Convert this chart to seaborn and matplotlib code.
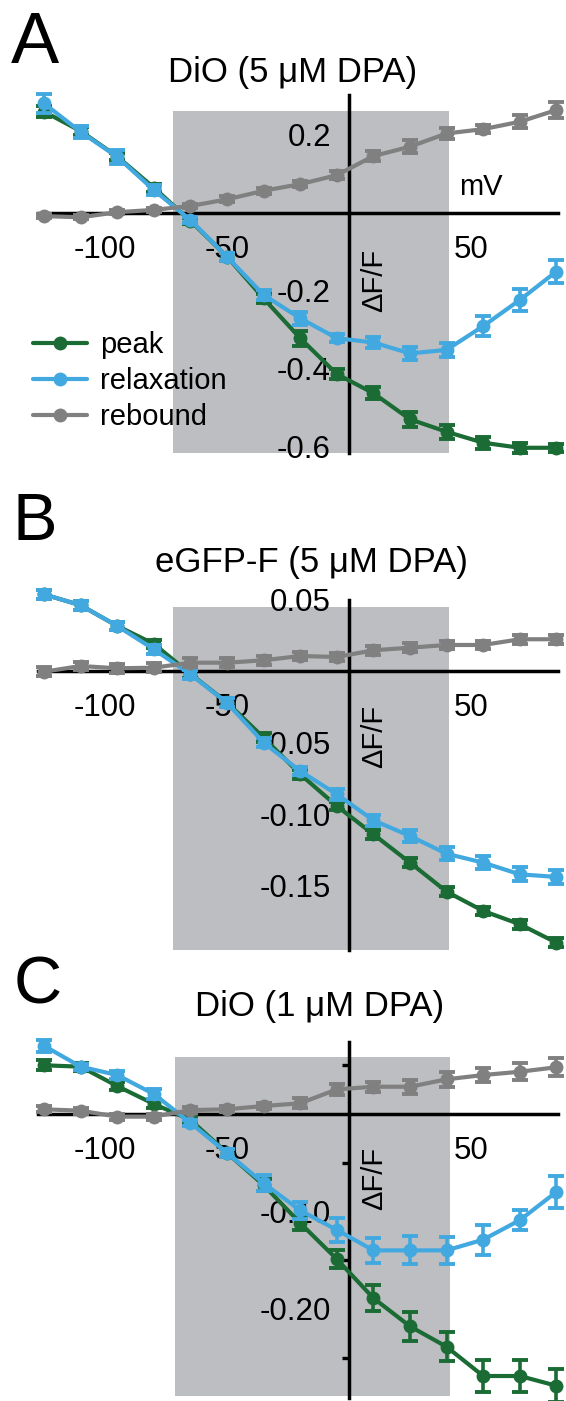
import numpy as np
import pandas as pd
import matplotlib
matplotlib.use("Agg")
import matplotlib.pyplot as plt
import seaborn as sns

# ---------------- data ----------------
mV = [-125, -110, -95, -80, -65, -50, -35, -20, -5, 10, 25, 40, 55, 70, 85]
series_names = ["peak", "relaxation", "rebound"]

# Panel A: DiO (5 uM DPA)
A_peak = [0.26, 0.21, 0.145, 0.065, -0.02, -0.112, -0.219, -0.321, -0.413, -0.462, -0.529, -0.561, -0.589, -0.602, -0.602]
A_peak_sem = [0.015, 0.01, 0.01, 0.01, 0.008, 0.01, 0.012, 0.019, 0.013, 0.015, 0.02, 0.018, 0.015, 0.013, 0.01]
A_relax = [0.281, 0.208, 0.144, 0.059, -0.018, -0.112, -0.21, -0.27, -0.321, -0.332, -0.36, -0.351, -0.29, -0.223, -0.15]
A_relax_sem = [0.025, 0.015, 0.018, 0.013, 0.008, 0.01, 0.013, 0.017, 0.01, 0.013, 0.017, 0.017, 0.025, 0.027, 0.03]
A_reb = [-0.008, -0.011, 0.002, 0.008, 0.018, 0.035, 0.057, 0.074, 0.097, 0.146, 0.17, 0.204, 0.215, 0.234, 0.264]
A_reb_sem = [0.005, 0.005, 0.005, 0.005, 0.006, 0.008, 0.008, 0.008, 0.01, 0.013, 0.017, 0.014, 0.01, 0.017, 0.02]

# Panel B: eGFP-F (5 uM DPA)
B_peak = [0.0536, 0.046, 0.0315, 0.019, -0.002, -0.022, -0.0466, -0.0722, -0.0944, -0.1142, -0.134, -0.1543, -0.1678, -0.1771, -0.19]
B_peak_sem = [0.003, 0.003, 0.003, 0.003, 0.003, 0.003, 0.003, 0.003, 0.003, 0.003, 0.003, 0.003, 0.003, 0.003, 0.003]
B_relax = [0.0536, 0.046, 0.0315, 0.0152, -0.0023, -0.0222, -0.0501, -0.070, -0.0862, -0.1044, -0.1154, -0.1278, -0.134, -0.1422, -0.144]
B_relax_sem = [0.003, 0.003, 0.003, 0.003, 0.003, 0.003, 0.003, 0.003, 0.004, 0.004, 0.004, 0.0045, 0.0045, 0.005, 0.0047]
B_reb = [-0.0005, 0.0035, 0.0019, 0.0023, 0.0058, 0.0058, 0.0075, 0.0105, 0.0098, 0.0145, 0.0163, 0.0182, 0.0182, 0.0222, 0.0222]
B_reb_sem = [0.003, 0.003, 0.003, 0.003, 0.003, 0.003, 0.003, 0.003, 0.003, 0.003, 0.003, 0.003, 0.003, 0.003, 0.003]

# Panel C: DiO (1 uM DPA)
C_peak = [0.050, 0.0486, 0.0287, 0.0103, -0.006, -0.040, -0.073, -0.112, -0.149, -0.189, -0.218, -0.239, -0.269, -0.269, -0.279]
C_peak_sem = [0.005, 0.004, 0.004, 0.004, 0.004, 0.004, 0.006, 0.007, 0.0094, 0.013, 0.015, 0.015, 0.016, 0.0166, 0.017]
C_relax = [0.070, 0.0486, 0.040, 0.0205, -0.009, -0.040, -0.071, -0.099, -0.119, -0.140, -0.140, -0.140, -0.129, -0.109, -0.080]
C_relax_sem = [0.006, 0.003, 0.004, 0.005, 0.003, 0.004, 0.0085, 0.009, 0.0125, 0.013, 0.0145, 0.0137, 0.0154, 0.0103, 0.016]
C_reb = [0.0048, 0.0034, -0.0027, -0.0027, 0.004, 0.0048, 0.0082, 0.011, 0.0253, 0.028, 0.028, 0.0356, 0.040, 0.0434, 0.048]
C_reb_sem = [0.003, 0.003, 0.003, 0.003, 0.003, 0.003, 0.003, 0.005, 0.006, 0.005, 0.007, 0.008, 0.007, 0.0085, 0.0094]

titles = ["DiO (5 \u03bcM DPA)", "eGFP-F (5 \u03bcM DPA)", "DiO (1 \u03bcM DPA)"]
letters = ["A", "B", "C"]
x_ticks = [-100, -50, 50]
x_ticklabels = ["-100", "-50", "50"]
A_yticks = [0.2, -0.2, -0.4, -0.6]
A_yticklabels = ["0.2", "-0.2", "-0.4", "-0.6"]
B_yticks = [0.05, -0.05, -0.10, -0.15]
B_yticklabels = ["0.05", "-0.05", "-0.10", "-0.15"]
C_yticks = [-0.10, -0.20]
C_yticklabels = ["-0.10", "-0.20"]
C_yminor = [0.05, -0.05, -0.15, -0.25]

# ---------------- style ----------------
sns.set_style("white")
plt.rcParams["font.family"] = ["Liberation Sans", "DejaVu Sans"]
plt.rcParams["axes.unicode_minus"] = False
plt.rcParams["text.color"] = "black"
plt.rcParams["xtick.color"] = "black"
plt.rcParams["ytick.color"] = "black"

GREEN = "#1b6b35"
BLUE = "#42a9e0"
GRAY = "#808080"
SHADE = "#bdbec1"
palette = {"peak": GREEN, "relaxation": BLUE, "rebound": GRAY}

TICK_FS = 22.5
TEXT_FS = 21
TITLE_FS = 25

W, H = 566, 1401
fig = plt.figure(figsize=(W / 100, H / 100), dpi=100)

XLIM = (-127.5, 85.5)
X0PX, XSCALE = 349.0, 2.44


def make_axes(y0px, yscale, ylim):
    left = X0PX + XSCALE * XLIM[0]
    right = X0PX + XSCALE * XLIM[1]
    top = y0px - yscale * ylim[1]
    bottom = y0px - yscale * ylim[0]
    ax = fig.add_axes([left / W, (H - bottom) / H, (right - left) / W, (bottom - top) / H])
    ax.set_xlim(*XLIM)
    ax.set_ylim(*ylim)
    return ax


def draw_panel(ax, data, shade, yticks, yticklabels, ylab_pos, minor=None):
    ax.set_facecolor("none")
    ax.fill_between([shade[0], shade[1]], shade[2], shade[3], color=SHADE, lw=0, zorder=0)
    for i, name in enumerate(series_names):
        vals, sems = data[name]
        df = pd.DataFrame({"mV": mV, "dff": vals, "sem": sems})
        z = 3 + i
        ax.errorbar(df["mV"], df["dff"], yerr=df["sem"], fmt="none", ecolor=palette[name],
                    elinewidth=2.6, capsize=5.5, capthick=2.8, zorder=z, clip_on=False)
        sns.lineplot(data=df, x="mV", y="dff", color=palette[name], marker="o", markersize=10,
                     markeredgewidth=0, linewidth=3.0, ax=ax, zorder=z, clip_on=False,
                     label=name, legend=False, sort=False)
    for s in ["top", "right"]:
        ax.spines[s].set_visible(False)
    ax.spines["left"].set_position(("data", 0))
    ax.spines["bottom"].set_position(("data", 0))
    for s in ["left", "bottom"]:
        ax.spines[s].set_linewidth(2.5)
        ax.spines[s].set_color("black")
        ax.spines[s].set_zorder(2.5)
    ax.set_xticks(x_ticks)
    ax.set_xticklabels(x_ticklabels)
    ax.set_yticks(yticks)
    ax.set_yticklabels(yticklabels)
    if minor is not None:
        ax.set_yticks(minor, minor=True)
        ax.tick_params(axis="y", which="minor", length=5, width=2.4, color="black", left=True)
    ax.tick_params(axis="both", which="major", length=9, width=2.4, direction="out",
                   labelsize=TICK_FS, color="black", labelcolor="black")
    ax.tick_params(axis="x", pad=7)
    ax.tick_params(axis="y", pad=4)
    ax.set_xlabel("")
    ax.set_ylabel("")
    ax.grid(False)
    ax.text(ylab_pos[0], ylab_pos[1], "\u0394F/F", rotation=90, ha="center", va="center",
            fontsize=TEXT_FS, color="black", zorder=2)


# Panel A
axA = make_axes(213.0, 390.0, (-0.615, 0.303))
draw_panel(axA, {"peak": (A_peak, A_peak_sem), "relaxation": (A_relax, A_relax_sem),
                 "rebound": (A_reb, A_reb_sem)},
           (-72, 41, -0.615, 0.2615), A_yticks, A_yticklabels, (10.5, -0.172))
axA.text(54, 0.067, "mV", ha="center", va="center", fontsize=TEXT_FS, color="black")
axA.legend(loc="upper left", bbox_to_anchor=(33 / W, (H - 331) / H), bbox_transform=fig.transFigure,
           frameon=False, fontsize=TEXT_FS, handlelength=1.85, handletextpad=0.45, labelspacing=0.28,
           borderpad=0, borderaxespad=0, labelcolor="black")

# Panel B
axB = make_axes(671.0, 1430.0, (-0.195, 0.05))
draw_panel(axB, {"peak": (B_peak, B_peak_sem), "relaxation": (B_relax, B_relax_sem),
                 "rebound": (B_reb, B_reb_sem)},
           (-72, 41, -0.195, 0.0448), B_yticks, B_yticklabels, (10.5, -0.046))

# Panel C
axC = make_axes(1114.0, 974.0, (-0.292, 0.074))
draw_panel(axC, {"peak": (C_peak, C_peak_sem), "relaxation": (C_relax, C_relax_sem),
                 "rebound": (C_reb, C_reb_sem)},
           (-71.5, 41.5, -0.29, 0.0585), C_yticks, C_yticklabels, (10.5, -0.066), minor=C_yminor)

# Titles and panel letters (pixel positions)
title_pos = [(293, 82), (311, 572), (320, 1016)]
letter_pos = [(11, 63, 52), (13, 540, 48), (14, 1003, 48)]
for t, (tx, ty) in zip(titles, title_pos):
    fig.text(tx / W, (H - ty) / H, t, ha="center", va="baseline", fontsize=TITLE_FS, color="black")
for l, (lx, ly, fs) in zip(letters, letter_pos):
    fig.text(lx / W, (H - ly) / H, l, ha="left", va="baseline", fontsize=fs, color="black")

fig.savefig("out.png", dpi=100, facecolor="white")
